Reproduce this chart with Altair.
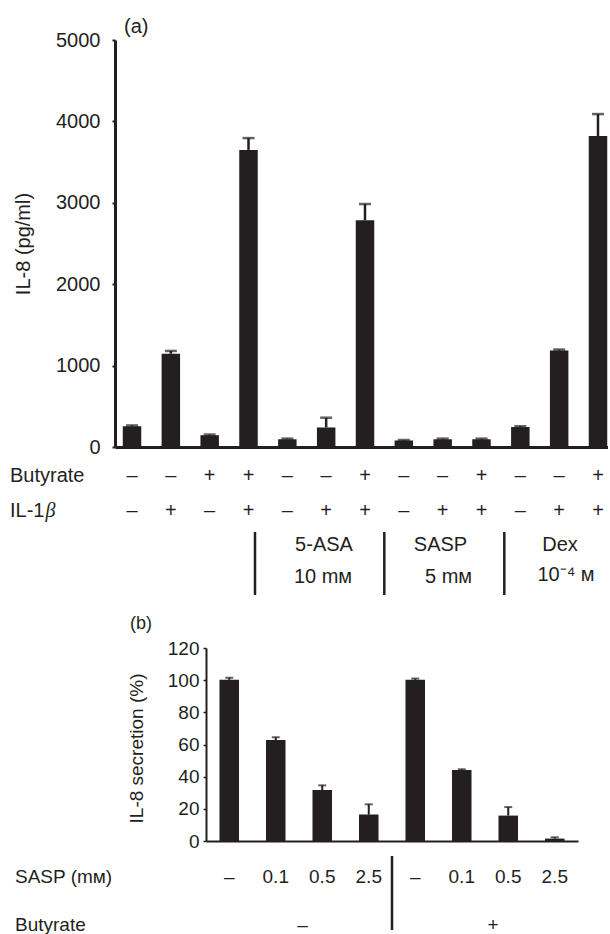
import altair as alt
import pandas as pd

INK = "#231f20"
SANS = "Liberation Sans"

# ---------------- panel (a) data ----------------
a_ids = ["a1", "a2", "a3", "a4", "a5", "a6", "a7", "a8", "a9", "a10", "a11", "a12", "a13"]
a_values = [255, 1145, 145, 3650, 95, 240, 2785, 80, 95, 95, 245, 1185, 3820]
a_errors = [10, 35, 8, 145, 8, 120, 200, 6, 8, 8, 10, 12, 270]
a_butyrate = ["–", "–", "+", "+", "–", "–", "+", "–", "–", "+", "–", "–", "+"]
a_il1b = ["–", "+", "–", "+", "–", "+", "+", "–", "+", "+", "–", "+", "+"]
a_yticks = [0, 1000, 2000, 3000, 4000, 5000]

# ---------------- panel (b) data ----------------
b_ids = ["b1", "b2", "b3", "b4", "b5", "b6", "b7", "b8"]
b_values = [100.2, 62.8, 31.7, 16.4, 100.2, 44.1, 15.8, 1.5]
b_errors = [1.3, 1.7, 2.9, 6.4, 0.8, 0.5, 5.3, 0.8]
b_sasp = ["–", "0.1", "0.5", "2.5", "–", "0.1", "0.5", "2.5"]
b_yticks = [0, 20, 40, 60, 80, 100, 120]

ONE = [{"k": 0}]


def text_mark(text, x, y, size=20, align="left", font=SANS, style="normal"):
    return alt.Chart(alt.Data(values=ONE)).mark_text(
        text=text, font=font, fontSize=size, fontStyle=style, color=INK,
        align=align, baseline="middle"
    ).encode(x=alt.value(x), y=alt.value(y))


def vline(x, y1, y2, width):
    return alt.Chart(alt.Data(values=ONE)).mark_rule(
        color=INK, strokeWidth=width
    ).encode(x=alt.value(x), y=alt.value(y1), y2=alt.value(y2))


# ================= panel (a) =================
WA, HA = 493, 407
dfa = pd.DataFrame({"id": a_ids, "value": a_values, "err": a_errors,
                    "butyrate": a_butyrate, "il1b": a_il1b})
dfa["top"] = dfa["value"] + dfa["err"]

xa_axis = alt.Axis(title=None, labels=False, ticks=False, domainWidth=3, domainColor=INK)
xa_scale = alt.Scale(domain=a_ids, paddingInner=0.524, paddingOuter=0.11, align=0.91)
ya_axis = alt.Axis(values=a_yticks, format="d", title="IL-8 (pg/ml)", grid=False,
                   domainWidth=3, domainColor=INK, tickColor=INK, tickSize=3, tickWidth=2,
                   labelFont=SANS, labelFontSize=20, labelColor=INK, labelPadding=12,
                   titleFont=SANS, titleFontSize=20, titleFontWeight="normal", titleColor=INK,
                   titleAngle=270, titleX=-92, titleY=HA / 2, titleAlign="center",
                   titleBaseline="middle")
ya_scale = alt.Scale(domain=[0, 5000], nice=False)

xa = alt.X("id:N", scale=xa_scale, axis=xa_axis)
base_a = alt.Chart(dfa)
bars_a = base_a.mark_bar(color=INK).encode(
    x=xa, y=alt.Y("value:Q", scale=ya_scale, axis=ya_axis))
err_a = base_a.mark_rule(color=INK, strokeWidth=2.5).encode(
    x=xa, y=alt.Y("value:Q", scale=ya_scale, axis=ya_axis), y2="top:Q")
cap_a = base_a.mark_tick(color=INK, orient="horizontal", size=12, thickness=2.5).encode(
    x=xa, y=alt.Y("top:Q", scale=ya_scale, axis=ya_axis))
row1_a = base_a.mark_text(font=SANS, fontSize=20, color=INK, baseline="middle").encode(
    x=xa, y=alt.value(436), text="butyrate:N")
row2_a = base_a.mark_text(font=SANS, fontSize=20, color=INK, baseline="middle").encode(
    x=xa, y=alt.value(471), text="il1b:N")

labels_a = [
    text_mark("(a)", 9, -13),
    text_mark("Butyrate", -105, 436),
    text_mark("IL-1", -105, 471),
    text_mark("β", -69.5, 471, font="Liberation Serif", style="italic"),
    text_mark("5-ASA", 209, 505, align="center"),
    text_mark("10 mᴍ", 208, 537, align="center"),
    text_mark("SASP", 325.5, 505, align="center"),
    text_mark("5 mᴍ", 333.5, 537, align="center"),
    text_mark("Dex", 445, 505, align="center"),
    text_mark("10⁻⁴ ᴍ", 451, 535, align="center"),
    vline(140, 492, 555, 2.5),
    vline(269.3, 492, 555, 2.5),
    vline(389.3, 492, 555, 2.5),
]

chart_a = alt.layer(bars_a, err_a, cap_a, row1_a, row2_a, *labels_a).properties(
    width=WA, height=HA)

# ================= panel (b) =================
# vconcat aligns the origins of both panels (page x ~115); panel (b)'s bars
# occupy the band range starting 91 px in, and its y axis is moved there
WB, HB = 463, 193
dfb = pd.DataFrame({"id": b_ids, "value": b_values, "err": b_errors, "sasp": b_sasp})
dfb["top"] = dfb["value"] + dfb["err"]

xb_axis = alt.Axis(title=None, labels=False, ticks=False, domainWidth=2, domainColor=INK)
xb_scale = alt.Scale(domain=b_ids, range=[91, 463], paddingInner=0.58, paddingOuter=0.29)
yb_axis = alt.Axis(values=b_yticks, format="d", title="IL-8 secretion (%)", grid=False,
                   offset=-91,
                   domainWidth=2, domainColor=INK, tickColor=INK, tickSize=3, tickWidth=1.5,
                   labelFont=SANS, labelFontSize=19, labelColor=INK, labelPadding=4,
                   titleFont=SANS, titleFontSize=19, titleFontWeight="normal", titleColor=INK,
                   titleAngle=270, titleX=-70, titleY=100, titleAlign="center",
                   titleBaseline="middle")
yb_scale = alt.Scale(domain=[0, 120], nice=False)

xb = alt.X("id:N", scale=xb_scale, axis=xb_axis)
base_b = alt.Chart(dfb)
bars_b = base_b.mark_bar(color=INK).encode(
    x=xb, y=alt.Y("value:Q", scale=yb_scale, axis=yb_axis))
err_b = base_b.mark_rule(color=INK, strokeWidth=2).encode(
    x=xb, y=alt.Y("value:Q", scale=yb_scale, axis=yb_axis), y2="top:Q")
cap_b = base_b.mark_tick(color=INK, orient="horizontal", size=8, thickness=2).encode(
    x=xb, y=alt.Y("top:Q", scale=yb_scale, axis=yb_axis))
row1_b = base_b.mark_text(font=SANS, fontSize=19, color=INK, baseline="middle").encode(
    x=xb, y=alt.value(229), text="sasp:N")

labels_b = [
    text_mark("(b)", 15, -24, size=18),
    text_mark("SASP (mᴍ)", -100, 229, size=19),
    text_mark("Butyrate", -100, 277, size=19),
    text_mark("–", 187.5, 277, size=19, align="center"),
    text_mark("+", 378, 277, size=19, align="center"),
    vline(277, 208, 282, 2.5),
]

chart_b = alt.layer(bars_b, err_b, cap_b, row1_b, *labels_b).properties(
    width=WB, height=HB)

chart = alt.vconcat(chart_a, chart_b, spacing=18).properties(
    padding={"left": 10, "top": 17, "right": 0, "bottom": 0},
    background="white",
).configure_view(stroke=None)

chart.save("out.html", embed_options={"renderer": "svg", "actions": False})
